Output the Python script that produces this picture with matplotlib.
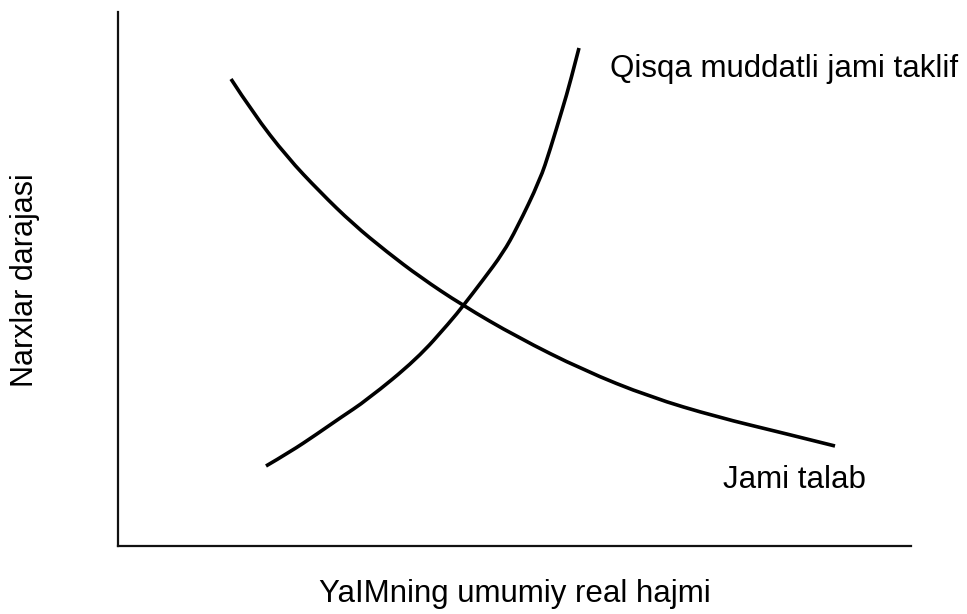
import matplotlib
matplotlib.use("Agg")
import matplotlib.pyplot as plt
from matplotlib.path import Path
from matplotlib.patches import PathPatch

plt.rcParams["font.family"] = ["Liberation Sans", "DejaVu Sans"]

# Axes extent (arbitrary units, origin at the axis corner)
X_MAX = 793
Y_MAX = 534

# Aggregate demand curve ("Jami talab")
demand_x = [113, 135, 169, 202, 235, 269, 302, 344, 399, 465, 532, 599, 665, 717]
demand_y = [467, 433, 389, 354, 322, 294, 269, 241, 209, 176, 149, 129, 113, 100]

# Short-run aggregate supply curve
supply_x = [148, 172, 199, 222, 249, 299, 332, 345, 365, 385, 399, 422, 432, 445, 452, 461]
supply_y = [80, 94, 112, 128, 146, 187, 224, 240, 266, 293, 318, 366, 396, 439, 463, 498]


def smooth_path(xs, ys):
    """Quadratic Bezier chain through midpoints, so the curve renders smooth."""
    pts = list(zip(xs, ys))
    verts = [pts[0]]
    codes = [Path.MOVETO]
    for i in range(1, len(pts) - 1):
        mid = ((pts[i][0] + pts[i + 1][0]) / 2, (pts[i][1] + pts[i + 1][1]) / 2)
        if i == len(pts) - 2:
            mid = pts[-1]
        verts += [pts[i], mid]
        codes += [Path.CURVE3, Path.CURVE3]
    return Path(verts, codes)


W, H = 967, 614
fig = plt.figure(figsize=(W / 100, H / 100), dpi=100)
ax = fig.add_axes([118 / W, 1 - 546 / H, (911 - 118) / W, (546 - 12) / H])

for xs, ys in [(demand_x, demand_y), (supply_x, supply_y)]:
    ax.add_patch(PathPatch(smooth_path(xs, ys), facecolor="none",
                           edgecolor="black", linewidth=2.6, capstyle="butt"))

ax.set_xlim(0, X_MAX)
ax.set_ylim(0, Y_MAX)
ax.set_xticks([])
ax.set_yticks([])
for side in ("top", "right"):
    ax.spines[side].set_visible(False)
for side in ("left", "bottom"):
    ax.spines[side].set_linewidth(1.6)
    ax.spines[side].set_color("#111111")

ax.text(492, 469, "Qisqa muddatli jami taklif", fontsize=22.5,
        ha="left", va="baseline", clip_on=False)
ax.text(605, 58, "Jami talab", fontsize=22.5, ha="left", va="baseline")

fig.text(514.5 / W, 1 - 602 / H, "YaIMning umumiy real hajmi", fontsize=22.5,
         ha="center", va="baseline")
fig.text(25 / W, 1 - 280 / H, "Narxlar darajasi", fontsize=22,
         ha="center", va="center", rotation=90)

fig.savefig("out.png", dpi=100, facecolor="white")
